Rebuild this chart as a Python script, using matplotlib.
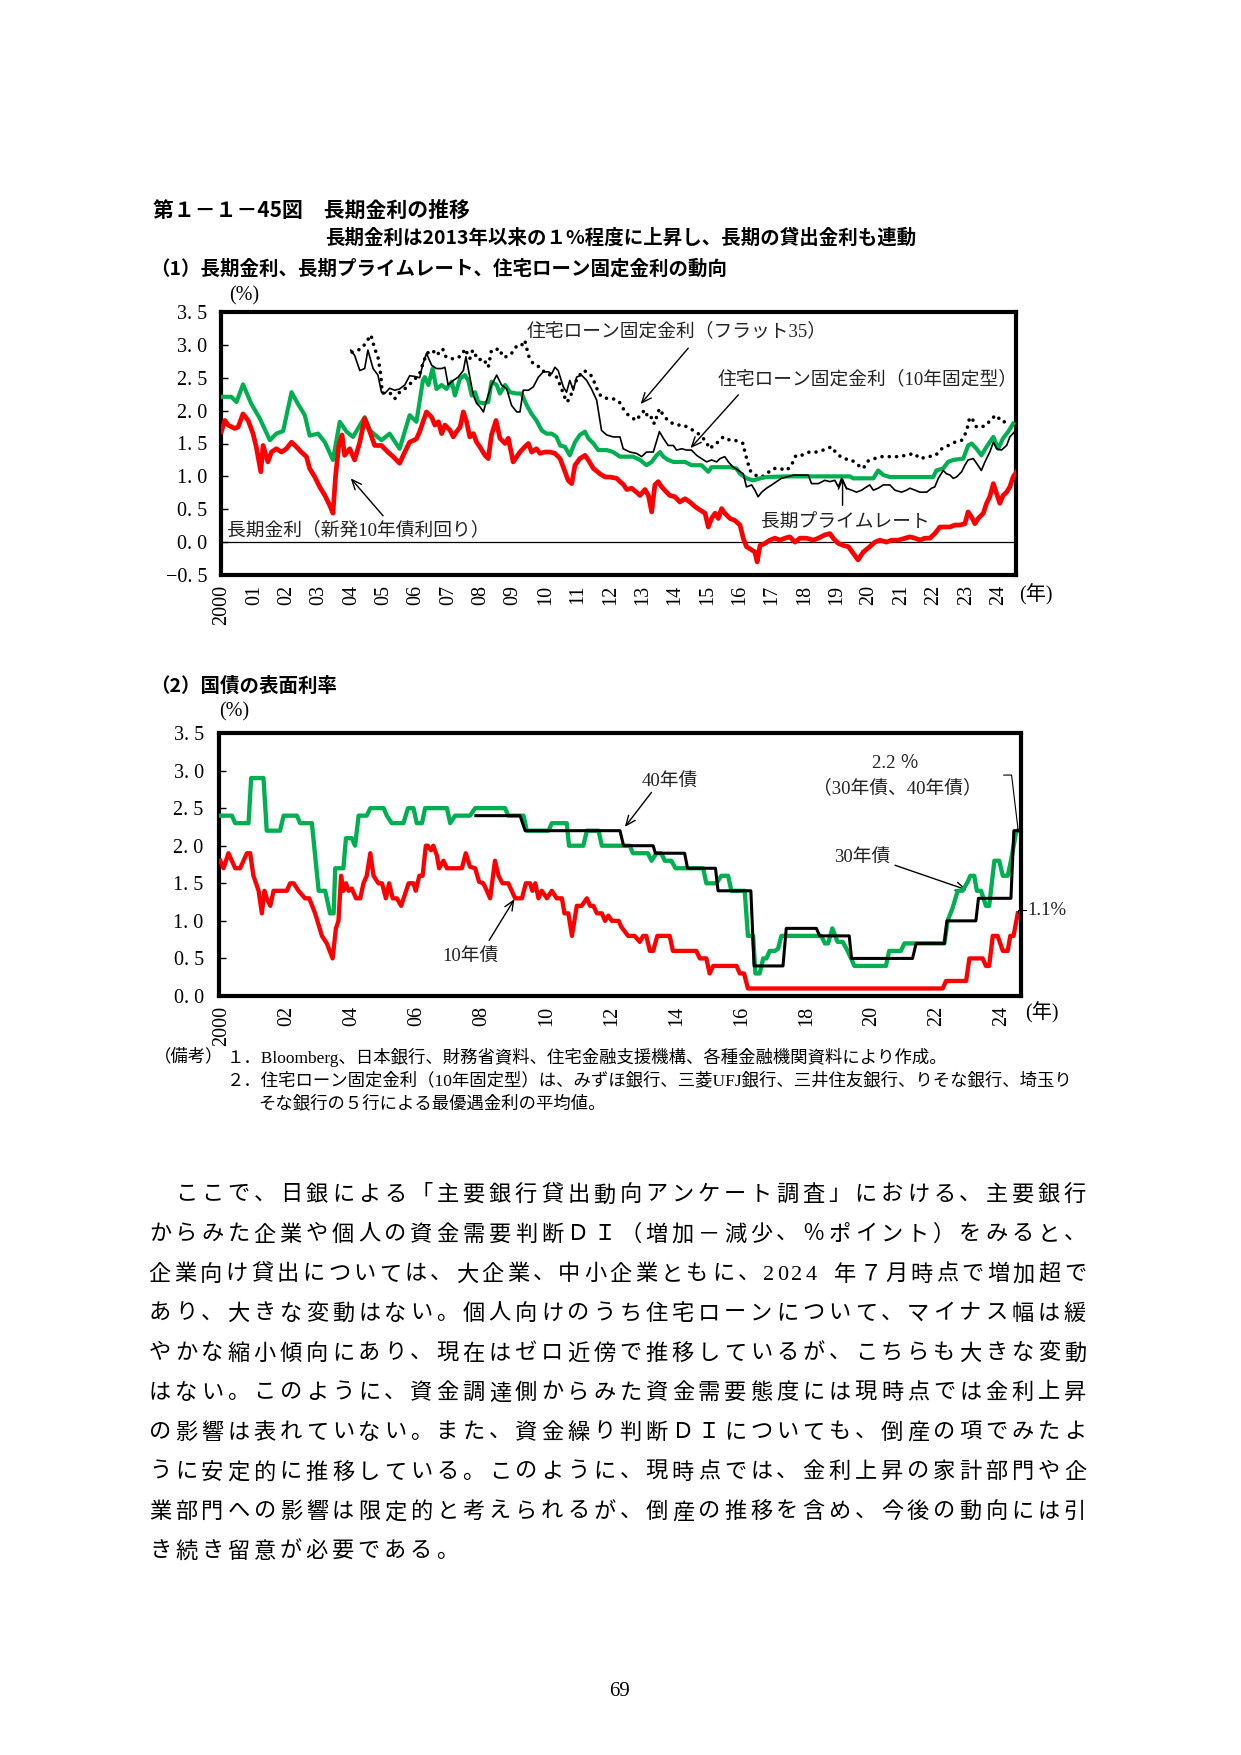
import matplotlib
matplotlib.use("Agg")
from matplotlib import pyplot as plt

# page size in pixels (dpi 100)
W, H = 1241, 1755
JP = 'Noto Sans CJK JP'
SERIF = ['Liberation Serif', 'Noto Sans CJK JP']
plt.rcParams['font.family'] = [JP, 'DejaVu Sans']

RED = '#ff0000'
GREEN = '#00b050'

# ---------------- data : (1) long-term rates ----------------
jgb10_yield = [
    (1999.98, 1.68), (2000.09, 1.85), (2000.19, 1.78), (2000.39, 1.73), (2000.50, 1.75), (2000.65, 1.95),
    (2000.81, 1.85), (2000.96, 1.65), (2001.06, 1.45), (2001.20, 1.07), (2001.27, 1.47), (2001.42, 1.22),
    (2001.53, 1.37), (2001.68, 1.42), (2001.84, 1.37), (2001.99, 1.42), (2002.15, 1.52), (2002.30, 1.45),
    (2002.45, 1.37), (2002.61, 1.30), (2002.71, 1.12), (2002.87, 0.99), (2003.02, 0.84), (2003.18, 0.71),
    (2003.33, 0.56), (2003.43, 0.44), (2003.51, 1.00), (2003.61, 1.47), (2003.71, 1.63), (2003.79, 1.32),
    (2003.95, 1.42), (2004.10, 1.25), (2004.26, 1.52), (2004.41, 1.88), (2004.57, 1.68), (2004.72, 1.47),
    (2004.93, 1.47), (2005.13, 1.37), (2005.29, 1.30), (2005.49, 1.20), (2005.65, 1.37), (2005.80, 1.52),
    (2006.01, 1.57), (2006.11, 1.68), (2006.32, 1.98), (2006.48, 1.90), (2006.58, 1.78), (2006.69, 1.83),
    (2006.79, 1.65), (2006.89, 1.78), (2007.05, 1.70), (2007.15, 1.60), (2007.25, 1.68), (2007.36, 1.75),
    (2007.46, 1.98), (2007.56, 1.83), (2007.66, 1.60), (2007.77, 1.65), (2007.87, 1.52), (2007.97, 1.45),
    (2008.13, 1.32), (2008.23, 1.27), (2008.33, 1.63), (2008.47, 1.85), (2008.59, 1.58), (2008.75, 1.50),
    (2008.85, 1.58), (2009.00, 1.22), (2009.11, 1.30), (2009.21, 1.37), (2009.36, 1.45), (2009.47, 1.50),
    (2009.57, 1.37), (2009.72, 1.42), (2009.83, 1.35), (2009.98, 1.37), (2010.14, 1.37), (2010.29, 1.35),
    (2010.45, 1.27), (2010.55, 1.14), (2010.70, 0.94), (2010.81, 0.89), (2010.91, 1.17), (2011.06, 1.27),
    (2011.22, 1.32), (2011.32, 1.25), (2011.48, 1.12), (2011.68, 1.04), (2011.84, 0.99), (2011.99, 0.99),
    (2012.20, 0.97), (2012.30, 0.92), (2012.40, 0.88), (2012.51, 0.80), (2012.66, 0.82), (2012.81, 0.76),
    (2012.92, 0.71), (2013.07, 0.80), (2013.18, 0.71), (2013.28, 0.46), (2013.38, 0.87), (2013.48, 0.92),
    (2013.59, 0.84), (2013.74, 0.76), (2013.84, 0.71), (2014.00, 0.69), (2014.15, 0.61), (2014.31, 0.66),
    (2014.46, 0.61), (2014.62, 0.54), (2014.77, 0.49), (2014.93, 0.44), (2015.03, 0.23), (2015.13, 0.36),
    (2015.24, 0.44), (2015.34, 0.36), (2015.44, 0.51), (2015.54, 0.44), (2015.70, 0.36), (2015.85, 0.33),
    (2016.01, 0.26), (2016.11, 0.06), (2016.21, -0.07), (2016.37, -0.12), (2016.47, -0.15), (2016.54, -0.30),
    (2016.63, -0.05), (2016.78, -0.02), (2016.93, 0.03), (2017.09, 0.06), (2017.24, 0.03), (2017.40, 0.06),
    (2017.55, 0.08), (2017.71, 0.00), (2017.86, 0.06), (2018.07, 0.06), (2018.27, 0.03), (2018.43, 0.06),
    (2018.63, 0.11), (2018.79, 0.13), (2018.89, 0.06), (2019.05, -0.02), (2019.20, -0.05), (2019.36, -0.07),
    (2019.51, -0.17), (2019.66, -0.27), (2019.82, -0.15), (2020.02, -0.07), (2020.18, 0.00), (2020.33, 0.03),
    (2020.54, 0.00), (2020.69, 0.03), (2020.90, 0.03), (2021.11, 0.06), (2021.26, 0.08), (2021.42, 0.06),
    (2021.57, 0.03), (2021.72, 0.06), (2021.88, 0.06), (2022.03, 0.13), (2022.19, 0.23), (2022.34, 0.23),
    (2022.50, 0.23), (2022.65, 0.26), (2022.81, 0.26), (2022.96, 0.28), (2023.06, 0.46), (2023.17, 0.38),
    (2023.27, 0.28), (2023.37, 0.36), (2023.53, 0.44), (2023.63, 0.59), (2023.73, 0.69), (2023.84, 0.89),
    (2023.94, 0.74), (2024.04, 0.59), (2024.14, 0.71), (2024.25, 0.76), (2024.35, 0.84), (2024.45, 0.99),
    (2024.56, 1.07),
]

prime_rate = [
    (1999.98, 2.21), (2000.29, 2.21), (2000.45, 2.13), (2000.65, 2.40), (2000.91, 2.10), (2001.17, 1.88),
    (2001.48, 1.55), (2001.68, 1.65), (2001.89, 1.69), (2002.15, 2.28), (2002.35, 2.10), (2002.56, 1.93),
    (2002.71, 1.62), (2002.97, 1.65), (2003.18, 1.52), (2003.43, 1.25), (2003.64, 1.83), (2003.85, 1.68),
    (2004.05, 1.60), (2004.41, 1.90), (2004.57, 1.70), (2004.93, 1.55), (2005.18, 1.65), (2005.49, 1.42),
    (2005.80, 1.93), (2006.01, 1.83), (2006.21, 2.46), (2006.27, 2.51), (2006.38, 2.39), (2006.51, 2.64),
    (2006.63, 2.33), (2006.79, 2.39), (2006.94, 2.33), (2007.10, 2.44), (2007.20, 2.23), (2007.36, 2.49),
    (2007.51, 2.54), (2007.61, 2.46), (2007.72, 2.23), (2007.82, 2.28), (2007.92, 2.13), (2008.08, 2.11),
    (2008.23, 2.13), (2008.33, 2.44), (2008.49, 2.39), (2008.59, 2.26), (2008.75, 2.39), (2008.90, 2.28),
    (2009.11, 2.26), (2009.26, 2.26), (2009.42, 2.08), (2009.57, 1.95), (2009.72, 1.85), (2009.88, 1.70),
    (2010.03, 1.65), (2010.19, 1.65), (2010.34, 1.60), (2010.45, 1.47), (2010.60, 1.45), (2010.75, 1.32),
    (2010.91, 1.52), (2011.06, 1.63), (2011.22, 1.68), (2011.32, 1.58), (2011.48, 1.50), (2011.63, 1.40),
    (2011.89, 1.40), (2012.09, 1.37), (2012.30, 1.30), (2012.71, 1.30), (2012.92, 1.25), (2013.12, 1.17),
    (2013.28, 1.22), (2013.43, 1.32), (2013.54, 1.37), (2013.64, 1.30), (2013.79, 1.25), (2013.95, 1.22),
    (2014.31, 1.22), (2014.51, 1.17), (2014.82, 1.17), (2015.03, 1.07), (2015.13, 1.14), (2015.70, 1.14),
    (2015.90, 1.12), (2016.01, 1.04), (2016.21, 0.97), (2016.42, 0.94), (2016.63, 0.97), (2016.83, 0.99),
    (2017.45, 1.00), (2019.41, 1.00), (2019.51, 0.97), (2020.13, 0.97), (2020.28, 1.09), (2020.44, 1.02),
    (2020.64, 0.99), (2021.98, 0.99), (2022.08, 1.09), (2022.29, 1.12), (2022.44, 1.22), (2022.60, 1.25),
    (2022.91, 1.27), (2023.06, 1.47), (2023.17, 1.50), (2023.32, 1.42), (2023.47, 1.32), (2023.63, 1.45),
    (2023.84, 1.60), (2023.99, 1.42), (2024.14, 1.58), (2024.30, 1.68), (2024.45, 1.80),
]

mortgage_10y_fixed = [
    (2003.98, 2.92), (2004.10, 2.84), (2004.26, 2.61), (2004.41, 2.64), (2004.51, 2.92), (2004.67, 2.64),
    (2004.82, 2.54), (2004.93, 2.28), (2005.03, 2.26), (2005.18, 2.34), (2005.34, 2.31), (2005.49, 2.33),
    (2005.65, 2.39), (2005.80, 2.53), (2005.96, 2.52), (2006.11, 2.50), (2006.21, 2.71), (2006.32, 2.87),
    (2006.48, 2.69), (2006.63, 2.64), (2006.79, 2.64), (2006.89, 2.66), (2006.99, 2.39), (2007.15, 2.46),
    (2007.30, 2.51), (2007.46, 2.61), (2007.54, 2.82), (2007.66, 2.51), (2007.77, 2.23), (2007.87, 2.11),
    (2007.97, 2.06), (2008.08, 1.98), (2008.18, 2.16), (2008.33, 2.39), (2008.49, 2.54), (2008.64, 2.39),
    (2008.80, 2.33), (2008.95, 2.08), (2009.11, 1.98), (2009.21, 1.98), (2009.31, 2.31), (2009.47, 2.31),
    (2009.62, 2.36), (2009.78, 2.51), (2009.93, 2.59), (2010.09, 2.59), (2010.19, 2.56), (2010.29, 2.66),
    (2010.39, 2.61), (2010.55, 2.36), (2010.65, 2.28), (2010.75, 2.46), (2010.86, 2.31), (2010.96, 2.51),
    (2011.11, 2.54), (2011.27, 2.46), (2011.42, 2.33), (2011.58, 2.16), (2011.73, 1.70), (2011.89, 1.63),
    (2012.09, 1.60), (2012.30, 1.60), (2012.40, 1.42), (2012.61, 1.37), (2012.81, 1.35), (2012.97, 1.30),
    (2013.12, 1.37), (2013.33, 1.37), (2013.52, 1.68), (2013.64, 1.58), (2013.79, 1.47), (2013.95, 1.47),
    (2014.05, 1.40), (2014.21, 1.42), (2014.36, 1.40), (2014.51, 1.40), (2014.67, 1.32), (2014.82, 1.27),
    (2014.98, 1.22), (2015.13, 1.25), (2015.29, 1.22), (2015.39, 1.27), (2015.54, 1.30), (2015.65, 1.22),
    (2015.80, 1.14), (2015.96, 1.09), (2016.11, 1.04), (2016.21, 0.84), (2016.37, 0.87), (2016.47, 0.79),
    (2016.57, 0.69), (2016.68, 0.76), (2016.83, 0.82), (2016.99, 0.87), (2017.14, 0.92), (2017.29, 0.97),
    (2017.45, 0.99), (2017.66, 1.02), (2018.12, 1.02), (2018.22, 0.89), (2018.43, 0.89), (2018.63, 0.94),
    (2018.79, 0.92), (2018.94, 0.94), (2019.05, 0.84), (2019.15, 0.97), (2019.30, 0.82), (2019.46, 0.79),
    (2019.61, 0.76), (2019.77, 0.79), (2019.92, 0.84), (2020.02, 0.87), (2020.13, 0.79), (2020.28, 0.82),
    (2020.44, 0.87), (2020.64, 0.87), (2020.80, 0.79), (2021.00, 0.76), (2021.16, 0.79), (2021.26, 0.82),
    (2021.42, 0.79), (2021.57, 0.76), (2021.78, 0.76), (2021.93, 0.82), (2022.03, 0.84), (2022.14, 0.97),
    (2022.29, 1.09), (2022.39, 1.04), (2022.50, 1.02), (2022.60, 0.97), (2022.70, 0.99), (2022.86, 1.07),
    (2022.96, 1.17), (2023.06, 1.25), (2023.22, 1.27), (2023.32, 1.20), (2023.47, 1.09), (2023.58, 1.22),
    (2023.73, 1.37), (2023.84, 1.52), (2023.94, 1.42), (2024.09, 1.40), (2024.25, 1.47), (2024.35, 1.60),
    (2024.50, 1.68),
]

flat35 = [
    (2004.02, 2.89), (2004.31, 2.94), (2004.46, 3.04), (2004.60, 3.15), (2004.65, 3.07), (2004.72, 2.94),
    (2004.82, 2.82), (2004.87, 2.66), (2004.91, 2.54), (2004.95, 2.27), (2005.08, 2.26), (2005.21, 2.26),
    (2005.34, 2.18), (2005.49, 2.28), (2005.70, 2.35), (2005.90, 2.45), (2006.10, 2.55), (2006.20, 2.70),
    (2006.33, 2.87), (2006.51, 2.92), (2006.63, 2.84), (2006.82, 2.94), (2006.92, 2.82), (2007.07, 2.79),
    (2007.23, 2.79), (2007.41, 2.84), (2007.51, 2.94), (2007.66, 2.79), (2007.75, 2.92), (2007.92, 2.77),
    (2008.08, 2.79), (2008.23, 2.66), (2008.33, 2.92), (2008.59, 2.94), (2008.67, 2.82), (2008.80, 2.82),
    (2008.95, 2.87), (2009.09, 2.97), (2009.23, 2.97), (2009.36, 3.07), (2009.47, 2.84), (2009.62, 2.71),
    (2009.83, 2.66), (2010.01, 2.56), (2010.17, 2.54), (2010.34, 2.51), (2010.45, 2.39), (2010.55, 2.26),
    (2010.65, 2.13), (2010.75, 2.18), (2010.88, 2.39), (2011.01, 2.51), (2011.17, 2.61), (2011.27, 2.59),
    (2011.40, 2.54), (2011.53, 2.41), (2011.63, 2.28), (2011.73, 2.21), (2011.94, 2.18), (2012.09, 2.18),
    (2012.27, 2.14), (2012.40, 2.03), (2012.56, 1.93), (2012.71, 1.88), (2012.81, 1.85), (2012.92, 1.93),
    (2013.07, 2.01), (2013.18, 1.88), (2013.30, 1.90), (2013.36, 1.80), (2013.52, 2.03), (2013.64, 1.93),
    (2013.82, 1.83), (2014.05, 1.78), (2014.26, 1.78), (2014.46, 1.73), (2014.72, 1.65), (2014.93, 1.55),
    (2015.08, 1.42), (2015.24, 1.50), (2015.34, 1.52), (2015.49, 1.60), (2015.70, 1.55), (2015.85, 1.55),
    (2016.11, 1.50), (2016.16, 1.37), (2016.23, 1.25), (2016.32, 1.09), (2016.47, 1.02), (2016.68, 0.99),
    (2016.83, 1.04), (2017.04, 1.12), (2017.24, 1.12), (2017.45, 1.09), (2017.60, 1.17), (2017.74, 1.32),
    (2017.91, 1.32), (2018.15, 1.37), (2018.38, 1.37), (2018.58, 1.40), (2018.84, 1.45), (2018.99, 1.35),
    (2019.20, 1.27), (2019.46, 1.25), (2019.66, 1.17), (2019.82, 1.12), (2019.95, 1.23), (2020.16, 1.27),
    (2020.39, 1.30), (2020.62, 1.30), (2020.88, 1.30), (2021.14, 1.32), (2021.39, 1.35), (2021.57, 1.27),
    (2021.83, 1.30), (2022.06, 1.32), (2022.21, 1.41), (2022.45, 1.47), (2022.65, 1.52), (2022.86, 1.55),
    (2023.01, 1.68), (2023.11, 1.90), (2023.22, 1.85), (2023.32, 1.75), (2023.47, 1.75), (2023.63, 1.78),
    (2023.78, 1.88), (2023.94, 1.93), (2024.09, 1.83), (2024.35, 1.83),
]

# ---------------- data : (2) coupon rates of JGBs ----------------
coupon10 = [
    (1999.95, 1.8), (2000.05, 1.7), (2000.20, 1.9), (2000.41, 1.7), (2000.56, 1.7), (2000.77, 1.9),
    (2000.87, 1.9), (2000.97, 1.6), (2001.13, 1.4), (2001.23, 1.1), (2001.31, 1.4), (2001.38, 1.3),
    (2001.49, 1.2), (2001.59, 1.4), (2002.00, 1.4), (2002.10, 1.5), (2002.21, 1.5), (2002.36, 1.4),
    (2002.46, 1.35), (2002.56, 1.3), (2002.69, 1.3), (2002.87, 1.1), (2003.08, 0.8), (2003.23, 0.7),
    (2003.41, 0.5), (2003.51, 0.9), (2003.59, 1.0), (2003.67, 1.6), (2003.74, 1.4), (2003.82, 1.5),
    (2003.90, 1.4), (2004.00, 1.43), (2004.13, 1.3), (2004.26, 1.3), (2004.36, 1.5), (2004.46, 1.6),
    (2004.57, 1.9), (2004.67, 1.6), (2004.82, 1.5), (2004.93, 1.5), (2005.05, 1.3), (2005.15, 1.5),
    (2005.26, 1.3), (2005.39, 1.3), (2005.52, 1.2), (2005.75, 1.5), (2005.90, 1.5), (2005.97, 1.4),
    (2006.08, 1.6), (2006.18, 1.6), (2006.28, 2.0), (2006.34, 2.0), (2006.44, 1.94), (2006.51, 2.0),
    (2006.62, 1.87), (2006.69, 1.7), (2006.82, 1.8), (2006.93, 1.7), (2007.39, 1.7), (2007.51, 1.9),
    (2007.64, 1.72), (2007.80, 1.7), (2007.92, 1.52), (2008.05, 1.5), (2008.16, 1.4), (2008.26, 1.3),
    (2008.41, 1.8), (2008.52, 1.6), (2008.64, 1.5), (2008.82, 1.5), (2009.03, 1.3), (2009.24, 1.3),
    (2009.36, 1.5), (2009.49, 1.5), (2009.56, 1.4), (2009.65, 1.5), (2009.75, 1.3), (2009.85, 1.4),
    (2010.01, 1.3), (2010.16, 1.4), (2010.31, 1.3), (2010.47, 1.3), (2010.55, 1.1), (2010.67, 1.1),
    (2010.78, 0.8), (2010.93, 1.2), (2011.08, 1.2), (2011.24, 1.3), (2011.34, 1.2), (2011.44, 1.2),
    (2011.55, 1.1), (2011.70, 1.1), (2011.80, 1.0), (2011.90, 1.07), (2012.01, 1.0), (2012.22, 1.0),
    (2012.30, 0.92), (2012.51, 0.8), (2012.71, 0.8), (2012.87, 0.72), (2012.97, 0.8), (2013.07, 0.8),
    (2013.18, 0.6), (2013.28, 0.6), (2013.41, 0.8), (2013.79, 0.8), (2013.89, 0.6), (2014.61, 0.6),
    (2014.72, 0.5), (2014.92, 0.5), (2015.02, 0.3), (2015.13, 0.4), (2015.85, 0.4), (2015.95, 0.3),
    (2016.08, 0.3), (2016.20, 0.1), (2022.20, 0.1), (2022.30, 0.2), (2022.92, 0.2), (2023.02, 0.5),
    (2023.43, 0.5), (2023.53, 0.4), (2023.63, 0.4), (2023.74, 0.8), (2023.89, 0.8), (2024.05, 0.6),
    (2024.20, 0.6), (2024.28, 0.8), (2024.38, 0.8), (2024.51, 1.1),
]

coupon30 = [
    (1999.95, 2.4), (2000.31, 2.4), (2000.41, 2.3), (2000.82, 2.3), (2000.90, 2.9), (2001.28, 2.9),
    (2001.38, 2.2), (2001.79, 2.2), (2001.90, 2.4), (2002.31, 2.4), (2002.41, 2.3), (2002.77, 2.3),
    (2002.98, 1.4), (2003.18, 1.4), (2003.33, 1.1), (2003.44, 1.1), (2003.49, 1.7), (2003.74, 1.7),
    (2003.82, 2.1), (2004.00, 2.1), (2004.10, 2.0), (2004.21, 2.4), (2004.46, 2.4), (2004.57, 2.5),
    (2004.98, 2.5), (2005.08, 2.4), (2005.23, 2.3), (2005.59, 2.3), (2005.73, 2.5), (2005.90, 2.5),
    (2006.00, 2.3), (2006.16, 2.3), (2006.26, 2.5), (2006.93, 2.5), (2007.03, 2.3), (2007.18, 2.4),
    (2007.64, 2.4), (2007.80, 2.5), (2008.72, 2.5), (2008.82, 2.4), (2009.29, 2.4), (2009.39, 2.2),
    (2010.06, 2.2), (2010.16, 2.3), (2010.62, 2.3), (2010.69, 2.0), (2011.13, 2.0), (2011.24, 2.2),
    (2011.60, 2.2), (2011.70, 2.0), (2012.56, 2.0), (2012.66, 1.9), (2013.12, 1.9), (2013.23, 1.8),
    (2013.38, 1.9), (2013.53, 1.9), (2013.64, 1.8), (2013.84, 1.8), (2013.97, 1.7), (2014.82, 1.7),
    (2014.92, 1.5), (2015.23, 1.5), (2015.38, 1.6), (2015.59, 1.6), (2015.69, 1.4), (2016.10, 1.4),
    (2016.20, 0.8), (2016.36, 0.8), (2016.43, 0.3), (2016.56, 0.3), (2016.67, 0.5), (2016.77, 0.5),
    (2016.87, 0.6), (2017.03, 0.6), (2017.13, 0.63), (2017.23, 0.8), (2018.46, 0.8), (2018.57, 0.7),
    (2018.67, 0.7), (2018.80, 0.9), (2018.96, 0.72), (2019.12, 0.72), (2019.27, 0.6), (2019.48, 0.4),
    (2020.45, 0.4), (2020.55, 0.6), (2020.91, 0.6), (2021.02, 0.7), (2022.25, 0.7), (2022.35, 1.0),
    (2022.51, 1.18), (2022.66, 1.4), (2022.81, 1.4), (2022.97, 1.52), (2023.05, 1.6), (2023.17, 1.6),
    (2023.25, 1.4), (2023.38, 1.4), (2023.53, 1.2), (2023.63, 1.2), (2023.79, 1.8), (2023.94, 1.8),
    (2024.05, 1.6), (2024.20, 1.6), (2024.30, 1.8), (2024.46, 2.18), (2024.51, 2.2),
]

coupon40 = [
    (2007.82, 2.4), (2009.18, 2.4), (2009.34, 2.2), (2012.26, 2.2), (2012.37, 2.0), (2013.28, 2.0),
    (2013.35, 1.9), (2014.25, 1.9), (2014.34, 1.7), (2015.20, 1.7), (2015.28, 1.4), (2016.29, 1.4),
    (2016.39, 0.4), (2017.28, 0.4), (2017.38, 0.9), (2018.31, 0.9), (2018.41, 0.8), (2019.32, 0.8),
    (2019.39, 0.5), (2021.27, 0.5), (2021.38, 0.7), (2022.25, 0.7), (2022.33, 1.0), (2023.22, 1.0),
    (2023.30, 1.3), (2024.30, 1.3), (2024.39, 2.2), (2024.56, 2.2),
]

top_years = list(range(2000, 2025))
top_labels = ['2000'] + ['%02d' % (y % 100) for y in top_years[1:]]
bot_years = list(range(2000, 2025, 2))
bot_labels = ['2000'] + ['%02d' % (y % 100) for y in bot_years[1:]]

title = '第１－１－45図　長期金利の推移'
subtitle = '長期金利は2013年以来の１%程度に上昇し、長期の貸出金利も連動'
head1 = '（1）長期金利、長期プライムレート、住宅ローン固定金利の動向'
head2 = '（2）国債の表面利率'
notes = [
    '１．Bloomberg、日本銀行、財務省資料、住宅金融支援機構、各種金融機関資料により作成。',
    '２．住宅ローン固定金利（10年固定型）は、みずほ銀行、三菱UFJ銀行、三井住友銀行、りそな銀行、埼玉り',
    'そな銀行の５行による最優遇金利の平均値。',
]
body = [
    '\u3000ここで、日銀による「主要銀行貸出動向アンケート調査」における、主要銀行',
    'からみた企業や個人の資金需要判断ＤＩ（増加－減少、％ポイント）をみると、',
    '企業向け貸出については、大企業、中小企業ともに、2024 年７月時点で増加超で',
    'あり、大きな変動はない。個人向けのうち住宅ローンについて、マイナス幅は緩',
    'やかな縮小傾向にあり、現在はゼロ近傍で推移しているが、こちらも大きな変動',
    'はない。このように、資金調達側からみた資金需要態度には現時点では金利上昇',
    'の影響は表れていない。また、資金繰り判断ＤＩについても、倒産の項でみたよ',
    'うに安定的に推移している。このように、現時点では、金利上昇の家計部門や企',
    '業部門への影響は限定的と考えられるが、倒産の推移を含め、今後の動向には引',
    'き続き留意が必要である。',
]


def fx(x):
    return x / W


def fy(y):
    return 1 - y / H


def xy(pairs):
    return [p[0] for p in pairs], [p[1] for p in pairs]


def ylab(v):
    s = '%.1f' % v
    return s.replace('-', '\u2212').replace('.', '. ')


def style_axes(ax, years, labels, yticks, ypad):
    for s in ax.spines.values():
        s.set_linewidth(3)
        s.set_color('black')
    ax.set_xticks(years)
    ax.set_xticklabels(labels, rotation=90, va='top', ha='center', family=SERIF, fontsize=14.5)
    ax.set_yticks(yticks)
    ax.set_yticklabels([ylab(v) for v in yticks], family=SERIF, fontsize=14.5)
    ax.tick_params(axis='y', direction='in', length=5, width=1, pad=ypad)
    ax.tick_params(axis='x', length=0, pad=7)


fig = plt.figure(figsize=(W / 100, H / 100), dpi=100)
fig.patch.set_facecolor('white')

arrow = dict(arrowstyle='->,head_length=0.7,head_width=0.3', color='black', lw=1,
             shrinkA=0, shrinkB=0)
ann_kw = dict(family=SERIF, fontsize=13.5, color='#222222')

# ---------------- chart (1) ----------------
ax1 = fig.add_axes([fx(221), fy(575), fx(1016) - fx(221), fy(312) - fy(575)])
ax1.axhline(0, color='black', lw=0.9, zorder=1)
x, y = xy(flat35)
ax1.plot(x, y, color='black', lw=2.6, linestyle=(0, (0.01, 2.0)), dash_capstyle='round', zorder=2)
x, y = xy(prime_rate)
ax1.plot(x, y, color=GREEN, lw=3.0, zorder=3)
x, y = xy(mortgage_10y_fixed)
ax1.plot(x, y, color='black', lw=1.2, zorder=4)
x, y = xy(jgb10_yield)
ax1.plot(x, y, color=RED, lw=3.4, zorder=5)
ax1.set_xlim(1999.97, 2024.54)
ax1.set_ylim(-0.5, 3.5)
style_axes(ax1, top_years, top_labels, [-0.5, 0, 0.5, 1.0, 1.5, 2.0, 2.5, 3.0, 3.5], 10)

ax1.text(2009.43, 3.2, '住宅ローン固定金利（フラット35）', ha='left', va='center', **ann_kw)
ax1.annotate('', xy=(2012.94, 2.10), xytext=(2014.41, 2.95), arrowprops=arrow)
ax1.text(2015.33, 2.48, '住宅ローン固定金利（10年固定型）', ha='left', va='center', clip_on=True, **ann_kw)
ax1.annotate('', xy=(2014.48, 1.43), xytext=(2015.96, 2.24), arrowprops=arrow)
ax1.text(2000.15, 0.18, '長期金利（新発10年債利回り）', ha='left', va='center', **ann_kw)
ax1.annotate('', xy=(2003.98, 0.97), xytext=(2004.98, 0.40), arrowprops=arrow)
ax1.text(2016.66, 0.29, '長期プライムレート', ha='left', va='center', **ann_kw)
ax1.annotate('', xy=(2019.18, 0.98), xytext=(2019.18, 0.56), arrowprops=arrow)

# ---------------- chart (2) ----------------
ax2 = fig.add_axes([fx(219), fy(996), fx(1021) - fx(219), fy(733) - fy(996)])
x, y = xy(coupon10)
ax2.plot(x, y, color=RED, lw=3.1, zorder=3)
x, y = xy(coupon30)
ax2.plot(x, y, color=GREEN, lw=3.1, zorder=4)
x, y = xy(coupon40)
ax2.plot(x, y, color='black', lw=2.2, zorder=5)
ax2.set_xlim(1999.91, 2024.61)
ax2.set_ylim(0, 3.5)
style_axes(ax2, bot_years, bot_labels, [0, 0.5, 1.0, 1.5, 2.0, 2.5, 3.0, 3.5], 11)

ax2.text(2013.79, 2.85, '40年債', ha='center', va='center', **ann_kw)
ax2.annotate('', xy=(2012.41, 2.25), xytext=(2013.23, 2.71), arrowprops=arrow)
ax2.text(2007.67, 0.53, '10年債', ha='center', va='center', **ann_kw)
ax2.annotate('', xy=(2009.01, 1.29), xytext=(2008.23, 0.74), arrowprops=arrow)
ax2.text(2019.73, 1.84, '30年債', ha='center', va='center', **ann_kw)
ax2.annotate('', xy=(2022.95, 1.41), xytext=(2020.73, 1.74), arrowprops=arrow)
ax2.text(2020.76, 3.09, '2.2 ％', ha='center', va='center', **ann_kw)
ax2.text(2020.81, 2.77, '（30年債、40年債）', ha='center', va='center', **ann_kw)
# leader lines to the latest values
x40, v40 = coupon40[-1]
ax2.plot([2024.08, 2024.32, x40 - 0.05, x40 - 0.05], [2.94, 2.94, v40 + 0.05, v40],
         color='black', lw=0.8, clip_on=False, zorder=6)
x10, v10 = coupon10[-1]
ax2.plot([x10, x10, x10 + 0.25], [v10, v10 + 0.04, v10 + 0.04], color='black', lw=0.8,
         clip_on=False, zorder=6)
ax2.text(x10 + 0.3, v10 + 0.04, '1.1%', ha='left', va='center', **ann_kw)

# ---------------- page texts ----------------
fig.text(fx(153), fy(210), title, ha='left', va='center', fontsize=15, fontweight='bold')
fig.text(fx(325), fy(238), subtitle, ha='left', va='center', fontsize=14, fontweight='bold')
fig.text(fx(150), fy(269), head1, ha='left', va='center', fontsize=14, fontweight='bold')
fig.text(fx(150), fy(686), head2, ha='left', va='center', fontsize=14, fontweight='bold')

fig.text(fx(244), fy(296), '(%)', ha='center', va='center', family=SERIF, fontsize=14.5)
fig.text(fx(234), fy(712), '(%)', ha='center', va='center', family=SERIF, fontsize=14.5)
fig.text(fx(1036), fy(595), '(年)', ha='center', va='center', family=SERIF, fontsize=14.5)
fig.text(fx(1042), fy(1013), '(年)', ha='center', va='center', family=SERIF, fontsize=14.5)

fig.text(fx(154), fy(1057), '（備考）', ha='left', va='center', family=SERIF, fontsize=12.5)
fig.text(fx(227), fy(1057), notes[0], ha='left', va='center', family=SERIF, fontsize=12.5)
fig.text(fx(227), fy(1081), notes[1], ha='left', va='center', family=SERIF, fontsize=12.5)
fig.text(fx(258), fy(1104), notes[2], ha='left', va='center', family=SERIF, fontsize=12.5)


# body paragraph: characters on a fixed grid, justified like the source page
def draw_line(text, x0, yy, width=None, pitch=26.1):
    units = [0.55 if ord(c) < 128 else 1.0 for c in text]
    if width is not None:
        pitch = width / sum(units)
    pos = x0
    for c, u in zip(text, units):
        if c.strip():
            fig.text(fx(pos + u * pitch / 2), fy(yy), c, ha='center', va='center',
                     family=SERIF, fontsize=16)
        pos += u * pitch


for i, line in enumerate(body):
    yy = 1196 + i * 39.6
    if i < len(body) - 1:
        draw_line(line, 147, yy, width=941)
    else:
        draw_line(line, 147, yy)

fig.text(fx(619), fy(1692), '69', ha='center', va='center', family=SERIF, fontsize=15)

fig.savefig('out.png', dpi=100)
